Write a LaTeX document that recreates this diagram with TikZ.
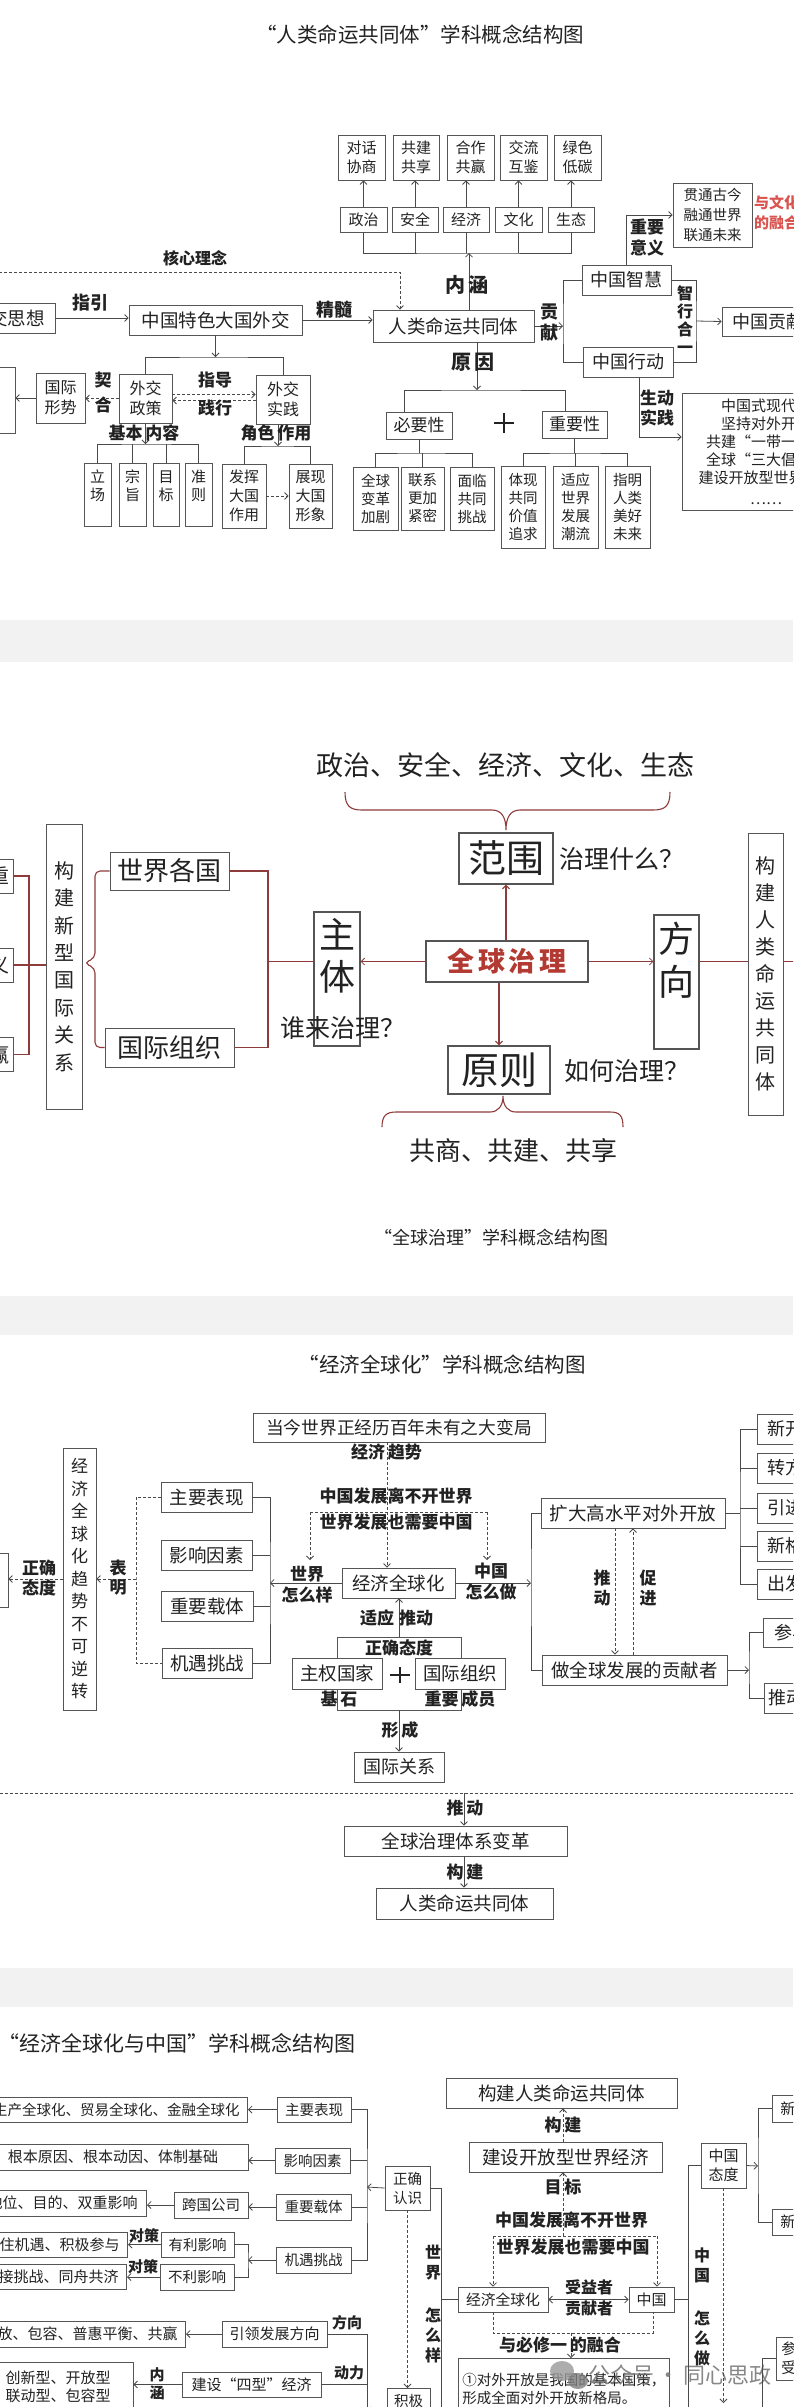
\documentclass[tikz,border=0pt]{standalone}
\usepackage{fontspec}
\setmainfont{Noto Sans CJK SC}
\usetikzlibrary{arrows.meta}
\definecolor{boxc}{HTML}{555555}
\definecolor{linec}{HTML}{4A4A4A}
\definecolor{txt}{HTML}{222222}
\definecolor{redln}{HTML}{8E3B3B}
\definecolor{redtx}{HTML}{B23A32}
\definecolor{pinktx}{HTML}{D9534F}
\definecolor{band}{HTML}{F2F2F2}

\begin{document}
\begin{tikzpicture}[x=1pt,y=-1pt,
  >={Straight Barb[length=3.5pt,width=7pt]},
  fs/.style 2 args={font=\fontsize{#1}{#2}\selectfont},
  bx/.style={draw=boxc,line width=0.8pt,fill=white,inner sep=2pt,align=center,text=txt},
  lbl/.style 2 args={inner sep=0pt,align=center,text=txt,font=\fontsize{#1}{#2}\selectfont\bfseries},
  ln/.style={draw=linec,line width=0.8pt},
  arr/.style={ln,->},
  dsh/.style={ln,dash pattern=on 3pt off 2pt},
  rl/.style={draw=redln,line width=1.1pt}]
  \useasboundingbox (0,0) rectangle (793,2407);
  \clip (0,0) rectangle (793,2407);
  \fill[white] (0,0) rectangle (793,2407);
  \fill[band] (0,620) rectangle (793,662);
  \fill[band] (0,1296) rectangle (793,1335);
  \fill[band] (0,1968) rectangle (793,2007);

  % ---- "人类命运共同体"
  \node[fs={20.5}{24},text=txt] (t1) at (420,35) {“人类命运共同体”学科概念结构图};
  \node[bx,fs={15}{19},minimum width=47,minimum height=45] (dhxs) at (361.5,157.5) {对话\\协商};
  \node[bx,fs={15}{19},minimum width=46,minimum height=45] (gjgx) at (416,157.5) {共建\\共享};
  \node[bx,fs={15}{19},minimum width=47,minimum height=45] (hzgy) at (470.5,157.5) {合作\\共赢};
  \node[bx,fs={15}{19},minimum width=47,minimum height=45] (jlhj) at (523.5,157.5) {交流\\互鉴};
  \node[bx,fs={15}{19},minimum width=47,minimum height=45] (lsdt) at (577.5,157.5) {绿色\\低碳};
  \node[bx,fs={15}{18},minimum width=47,minimum height=25] (zz) at (363.5,219.5) {政治};
  \node[bx,fs={15}{18},minimum width=46,minimum height=25] (aq) at (415,219.5) {安全};
  \node[bx,fs={15}{18},minimum width=46,minimum height=25] (jj) at (466,219.5) {经济};
  \node[bx,fs={15}{18},minimum width=47,minimum height=25] (wh) at (518.5,219.5) {文化};
  \node[bx,fs={15}{18},minimum width=46,minimum height=25] (st) at (571,219.5) {生态};
  \foreach \a/\b in {zz/dhxs,aq/gjgx,jj/hzgy,wh/jlhj,st/lsdt}
    \draw[arr] (\a.north) -- (\a.north |- \b.south);
  \coordinate (nh) at (469,253);
  \draw[ln] (zz.south) |- (nh) -| (st.south);
  \foreach \a in {aq,jj,wh} \draw[ln] (\a.south) -- (\a.south |- nh);

  \node[bx,fs={18.5}{22},minimum width=161,minimum height=32] (rmgt) at (453.5,326) {人类命运共同体};
  \draw[arr] (rmgt.north -| nh) -- (nh);
  \node[lbl={20}{22}] at (467,285) {内\,涵};

  \node[bx,fs={18.5}{22},minimum width=150,minimum height=30] (wxsx) at (-20,318) {习近平外交思想};
  \coordinate (hx) at (400,272);
  \draw[dsh,->] (wxsx.north) |- (hx) -- (hx |- rmgt.north);
  \node[lbl={16}{18}] at (195,258) {核心理念};
  \node[bx,fs={18.5}{22},minimum width=173,minimum height=30] (tsdg) at (215.5,320) {中国特色大国外交};
  \draw[arr] (wxsx.east) -- (wxsx.east -| tsdg.west);
  \node[lbl={18}{20}] at (90,303) {指引};
  \draw[arr] (tsdg.east) -- (tsdg.east -| rmgt.west);
  \node[lbl={18}{20}] at (334,310) {精髓};

  \node[bx,fs={18}{22},minimum width=89,minimum height=30] (zghz) at (626.5,280) {中国智慧};
  \node[bx,fs={18}{22},minimum width=90,minimum height=30] (zgxd) at (628,362) {中国行动};
  \coordinate (gx) at (563,326);
  \draw[arr] (rmgt.east) -- (gx);
  \draw[ln] (zghz.west) -| (gx) |- (zgxd.west);
  \node[lbl={18}{21}] at (549,323) {贡\\献};
  \coordinate (zx) at (696,321);
  \draw[ln] (zghz.east) -| (zx) |- (zgxd.east);
  \node[lbl={16}{18}] at (685,320) {智\\行\\合\\一};
  \node[bx,fs={18}{22},minimum width=92,minimum height=29] (zggx) at (768,321.5) {中国贡献};
  \draw[arr] (zx) -- (zggx.west);
  \node[bx,fs={14.5}{20},minimum width=79,minimum height=64] (gtgj) at (712.5,215) {贯通古今\\融通世界\\联通未来};
  \draw[arr] (zghz.north) |- (gtgj.west);
  \node[lbl={17}{21}] at (647,237.5) {重要\\意义};
  \node[anchor=west,align=left,inner sep=0pt,text=pinktx,font=\fontsize{15}{20}\selectfont\bfseries] (rhx) at (754,213) {与文化\\的融合};
  \node[bx,fs={15}{18},minimum width=168,minimum height=117] (zsxd) at (766,451.5)
    {中国式现代化\\坚持对外开放\\共建“一带一路”\\全球“三大倡议”\\建设开放型世界经济\\[3pt]……};
  \coordinate (sd) at (639,437);
  \draw[arr] (zgxd.south -| sd) -- (sd) -- (sd -| zsxd.west);
  \node[lbl={17}{20}] at (657,408) {生动\\实践};

  \coordinate (yb) at (477,390);
  \draw[arr] (rmgt.south -| yb) -- (yb);
  \node[lbl={20}{22}] at (473,362) {原\,因};
  \node[bx,fs={17}{20},minimum width=66,minimum height=27] (byx) at (419,425.5) {必要性};
  \node[bx,fs={17}{20},minimum width=65,minimum height=27] (zyx) at (574.5,424.5) {重要性};
  \draw[ln] ([xshift=-15]byx.north) |- (yb) -| ([xshift=-9.5]zyx.north);
  \draw[line width=2.2pt,txt] (494,423) -- (514,423) (504,413) -- (504,433);
  \node[bx,fs={14.5}{18},minimum width=45,minimum height=63] (qbgj) at (375.5,498.5) {全球\\变革\\加剧};
  \node[bx,fs={14.5}{18},minimum width=43,minimum height=63] (lxjm) at (422.5,498.5) {联系\\更加\\紧密};
  \node[bx,fs={14.5}{18},minimum width=44,minimum height=63] (mlgt) at (472,498.5) {面临\\共同\\挑战};
  \coordinate (bb) at (419,453);
  \draw[ln] (byx.south) -- (bb);
  \draw[ln] (qbgj.north) |- (bb) -| (mlgt.north);
  \draw[ln] (lxjm.north) -- (lxjm.north |- bb);
  \node[bx,fs={14.5}{18},minimum width=44,minimum height=82] (txgt) at (523,507) {体现\\共同\\价值\\追求};
  \node[bx,fs={14.5}{18},minimum width=45,minimum height=82] (yysj) at (575.5,507) {适应\\世界\\发展\\潮流};
  \node[bx,fs={14.5}{18},minimum width=45,minimum height=82] (zmrl) at (627.5,507) {指明\\人类\\美好\\未来};
  \coordinate (zb) at (575,453);
  \draw[ln] (zyx.south) -- (zyx.south |- zb);
  \draw[ln] (txgt.north) |- (zb) -| (zmrl.north);
  \draw[ln] (yysj.north) -- (yysj.north |- zb);

  \node[bx,fs={16}{20},minimum width=53,minimum height=49] (wxzc) at (145.5,398.5) {外交\\政策};
  \node[bx,fs={16}{20},minimum width=54,minimum height=49] (wxsj) at (283,399.5) {外交\\实践};
  \node[bx,fs={16}{20},minimum width=49,minimum height=50] (gjxs) at (60.5,398) {国际\\形势};
  \coordinate (wb) at (213,357);
  \draw[arr] (tsdg.south) -- (tsdg.south |- wb);
  \draw[ln] (wxzc.north) |- (wb) -| (wxsj.north);
  \draw[dsh,->] ([yshift=4]wxzc.east) -- ([yshift=4]wxzc.east -| wxsj.west);
  \draw[dsh,->] ([yshift=-2]wxzc.east -| wxsj.west) -- ([yshift=-2]wxzc.east);
  \node[lbl={17}{20}] at (215,380) {指导};
  \node[lbl={17}{20}] at (215,408) {践行};
  \draw[dsh,->] (wxzc.west) -- (wxzc.west -| gjxs.east);
  \node[lbl={17}{25}] at (103,392.5) {契\\合};
  \node[bx,minimum width=55,minimum height=66] (lfx) at (-12.5,400) {};
  \draw[arr] (gjxs.west) -- (gjxs.west -| lfx.east);

  \coordinate (jb) at (145,444);
  \draw[arr] (wxzc.south) -- (wxzc.south |- jb);
  \node[lbl={17}{20}] at (144,433) {基本\,内容};
  \node[bx,fs={15}{18},minimum width=27,minimum height=63] (ls) at (97.5,494.5) {立\\场\\\mbox{}};
  \node[bx,fs={15}{18},minimum width=27,minimum height=63] (zz2) at (132.5,494.5) {宗\\旨\\\mbox{}};
  \node[bx,fs={15}{18},minimum width=26,minimum height=63] (mb) at (166,494.5) {目\\标\\\mbox{}};
  \node[bx,fs={15}{18},minimum width=27,minimum height=63] (zc) at (198.5,494.5) {准\\则\\\mbox{}};
  \draw[ln] (ls.north) |- (jb) -| (zc.north);
  \foreach \a in {zz2,mb} \draw[ln] (\a.north) -- (\a.north |- jb);

  \coordinate (jsb) at (278,446);
  \draw[arr] (wxsj.south -| jsb) -- (jsb);
  \node[lbl={17}{20}] at (276,433) {角色\,作用};
  \node[bx,fs={15}{19},minimum width=44,minimum height=64] (fhdg) at (244,496) {发挥\\大国\\作用};
  \node[bx,fs={15}{19},minimum width=43,minimum height=64] (zxdg) at (310.5,496) {展现\\大国\\形象};
  \draw[ln] (fhdg.north) |- (jsb) -| (zxdg.north);
  \draw[dsh,->] (fhdg.east) -- (zxdg.west);

  % ---- "全球治理"
  \node[fs={27}{30},text=txt] (fwt) at (505,765) {政治、安全、经济、文化、生态};
  \draw[rl] (345,792) .. controls (345,806) and (350,810) .. (362,810) -- (492,810)
    .. controls (502,810) and (506,818) .. (506,830) .. controls (506,818) and (510,810) .. (520,810)
    -- (653,810) .. controls (665,810) and (670,806) .. (670,792);
  \node[bx,line width=1.2pt,fs={38}{40},minimum width=94,minimum height=51] (fw) at (506,858.5) {范围};
  \node[anchor=west,inner sep=0pt,fs={25}{28},text=txt] (zlsm) at (559,859) {治理什么？};
  \node[bx,line width=1.2pt,fs={27}{30},text=redtx,minimum width=162,minimum height=41] (qqzl) at (507,961.5)
    {\bfseries 全\hspace{4pt}球\hspace{4pt}治\hspace{4pt}理};
  \node[bx,line width=1.2pt,fs={38}{40},minimum width=102,minimum height=48] (yz) at (499,1070) {原则};
  \node[anchor=west,inner sep=0pt,fs={25}{28},text=txt] (rhzl) at (564,1071) {如何治理？};
  \draw[rl,->] (qqzl.north -| fw) -- (fw.south);
  \draw[rl,->] (qqzl.south -| yz) -- (yz.north);
  \draw[rl] (382,1127) .. controls (382,1116) and (386,1112) .. (396,1112) -- (490,1112)
    .. controls (498,1112) and (503,1106) .. (503,1096) .. controls (503,1106) and (508,1112) .. (516,1112)
    -- (610,1112) .. controls (620,1112) and (623,1116) .. (623,1127);
  \node[fs={26}{30},text=txt] (gsgj) at (513,1151) {共商、共建、共享};

  \node[bx,line width=1.2pt,minimum width=46,minimum height=134] (zt) at (337,979) {};
  \node[inner sep=0pt,align=center,fs={36}{42},text=txt] (ztt) at (337,956) {主\\体};
  \node[inner sep=0pt,fs={25}{28},text=txt] (slzl) at (343,1028) {谁来治理？};
  \node[bx,line width=1.2pt,minimum width=45,minimum height=134] (fx) at (676.5,982) {};
  \node[inner sep=0pt,align=center,fs={36}{43},text=txt] (fxt) at (676.5,960.5) {方\\向};
  \draw[rl,->,line width=0.8pt] (qqzl.west) -- (qqzl.west -| zt.east);
  \draw[rl,->,line width=0.8pt] (qqzl.east) -- (qqzl.east -| fx.west);
  \node[bx,line width=1pt,fs={20}{27},minimum width=35,minimum height=282] (gjrl) at (765.5,974)
    {构\\建\\人\\类\\命\\运\\共\\同\\体};
  \draw[rl] (qqzl.east -| fx.east) -- (qqzl.east -| gjrl.west);
  \draw[rl] (qqzl.east -| gjrl.east) -- ++(20,0);

  \node[bx,line width=1pt,fs={26}{30},minimum width=119,minimum height=38] (sjgg) at (169.5,871) {世界各国};
  \node[bx,line width=1pt,fs={26}{30},minimum width=129,minimum height=39] (gjzz) at (169.5,1047.5) {国际组织};
  \coordinate (zl) at (268,964);
  \draw[rl] (qqzl.west -| zt.west) -- (qqzl.west -| zl);
  \draw[rl] (sjgg.east) -| (zl) |- (gjzz.east);
  \draw[rl,rounded corners=5] (sjgg.west) -| (95,958) -- (84,963) -- (95,968) |- (gjzz.west);
  \node[bx,line width=1pt,fs={20}{27.4},minimum width=36,minimum height=285] (xxgj) at (64,966.5)
    {构\\建\\新\\型\\国\\际\\关\\系};
  \node[bx,line width=1pt,fs={20}{24},anchor=east,inner xsep=4pt,minimum height=34] (xhzz) at (14,876) {相互尊重};
  \node[bx,line width=1pt,fs={20}{24},anchor=east,inner xsep=4pt,minimum height=34] (gpzy) at (14,965) {公平正义};
  \node[bx,line width=1pt,fs={20}{24},anchor=east,inner xsep=4pt,minimum height=34] (hzgy2) at (14,1054.5) {合作共赢};
  \coordinate (xl) at (29,966);
  \draw[rl] (xhzz.east) -| (xl) |- (hzgy2.east);
  \draw[rl] (gpzy.east) -- (gpzy.east -| xxgj.west);
  \node[fs={18}{22},text=txt] (t2) at (491,1238) {“全球治理”学科概念结构图};

  % ---- "经济全球化"
  \node[fs={20.5}{24},text=txt] (t3) at (442,1365) {“经济全球化”学科概念结构图};
  \node[bx,fs={17.7}{21},minimum width=292,minimum height=29] (dbj) at (399,1427.5) {当今世界正经历百年未有之大变局};
  \node[bx,fs={18.5}{22},minimum width=113,minimum height=30] (jjqh) at (398.5,1583) {经济全球化};
  \coordinate (qs) at (387,1452);
  \draw[dsh,->] (dbj.south -| qs) -- (jjqh.north -| qs);
  \node[lbl={17}{20}] at (386.5,1452) {经济\,趋势};
  \node[lbl={17}{20}] (fz1) at (396,1496) {中国发展离不开世界};
  \node[lbl={17}{20}] (fz2) at (396,1522) {世界发展也需要中国};
  \coordinate (d1) at (310,1512);
  \coordinate (d2) at (487,1512);
  \draw[dsh] (d1) -- (d2);
  \draw[dsh,->] (d1) -- ++(0,48);
  \draw[dsh,->] (d2) -- ++(0,48);
  \coordinate (jb3) at (270,1586);
  \draw[arr] (jjqh.west) -- (jjqh.west -| jb3);
  \node[lbl={17}{21}] at (307,1585) {世界\\怎么样};
  \coordinate (zx3) at (531,1583);
  \draw[arr] (jjqh.east) -- (zx3);
  \node[lbl={17}{21}] at (491,1582) {中国\\怎么做};

  \node[bx,fs={18.5}{22},minimum width=91,minimum height=30] (zybx) at (206.5,1497) {主要表现};
  \node[bx,fs={18.5}{22},minimum width=91,minimum height=30] (yxys) at (206.5,1555) {影响因素};
  \node[bx,fs={18.5}{22},minimum width=92,minimum height=30] (zyzt) at (207,1606) {重要载体};
  \node[bx,fs={18.5}{22},minimum width=90,minimum height=30] (jytz) at (207,1663) {机遇挑战};
  \draw[ln] (zybx.east) -| (jb3) |- (jytz.east);
  \foreach \a in {yxys,zyzt} \draw[ln] (\a.east) -- (\a.east -| jb3);
  \coordinate (bm) at (136,1579);
  \draw[dsh] (zybx.west) -| (bm) |- (jytz.west);
  \node[bx,fs={17}{22.5},minimum width=33,minimum height=262] (qsbk) at (79.5,1579)
    {经\\济\\全\\球\\化\\趋\\势\\不\\可\\逆\\转};
  \draw[dsh,->] (bm) -- (qsbk.east);
  \node[lbl={17}{19}] at (118,1577.5) {表\\明};
  \node[bx,minimum width=40,minimum height=54] (zqtd0) at (-12,1580) {};
  \draw[dsh,->] (qsbk.west) -- (qsbk.west -| zqtd0.east);
  \node[lbl={17}{20}] at (39,1578) {正确\\态度};

  \node[bx,fs={18.5}{22},minimum width=184,minimum height=30] (kdgs) at (633,1513) {扩大高水平对外开放};
  \node[bx,fs={18.5}{22},minimum width=185,minimum height=30] (gxz) at (634.5,1670) {做全球发展的贡献者};
  \draw[ln] (kdgs.west) -| (zx3) |- (gxz.west);
  \draw[dsh,->] ([xshift=-18]kdgs.south) -- ([xshift=-18]kdgs.south |- gxz.north);
  \draw[dsh,->] (kdgs.south |- gxz.north) -- (kdgs.south);
  \node[lbl={17}{20}] at (602,1588) {推\\动};
  \node[lbl={17}{20}] at (648,1588) {促\\进};
  \coordinate (rb1) at (740,1513);
  \node[bx,fs={18}{21},anchor=west,inner xsep=10pt,minimum height=30] (xk) at (757,1429) {新开放格局};
  \node[bx,fs={18}{21},anchor=west,inner xsep=10pt,minimum height=30] (zf) at (757,1468) {转方式调结构};
  \node[bx,fs={18}{21},anchor=west,inner xsep=10pt,minimum height=30] (yj) at (757,1508) {引进来};
  \node[bx,fs={18}{21},anchor=west,inner xsep=10pt,minimum height=30] (xg) at (757,1546) {新格局};
  \node[bx,fs={18}{21},anchor=west,inner xsep=10pt,minimum height=30] (cf) at (757,1584) {出发点};
  \draw[ln] (kdgs.east) -- (rb1);
  \draw[ln] (xk.west) -| (rb1) |- (cf.west);
  \foreach \a in {zf,yj,xg} \draw[ln] (\a.west) -- (\a.west -| rb1);
  \coordinate (rb2) at (749,1670);
  \draw[arr] (gxz.east) -- (rb2);
  \node[bx,fs={18}{21},anchor=west,inner xsep=11pt,minimum height=29] (cy) at (763,1632.5) {参与全球治理};
  \node[bx,fs={18}{21},anchor=west,inner xsep=4pt,minimum height=30] (tj) at (764,1698) {推动构建};
  \draw[ln] (cy.west) -| (rb2) |- (tj.west);

  \node[bx,minimum width=124,minimum height=73] (zqtd) at (399,1673.5) {};
  \node[lbl={17}{20}] at (399,1648) {正确态度};
  \draw[arr] (zqtd.north) -- (zqtd.north |- jjqh.south);
  \node[lbl={17}{20}] at (377,1618) {适应};
  \node[lbl={17}{20}] at (416,1618) {推动};
  \node[bx,fs={18.5}{22},minimum width=90,minimum height=31] (zqgj) at (337,1673.5) {主权国家};
  \node[bx,fs={18.5}{22},minimum width=90,minimum height=31] (gjzz3) at (460,1673.5) {国际组织};
  \draw[line width=2.2pt,txt] (390,1675) -- (410,1675) (400,1667) -- (400,1683);
  \node[lbl={17}{20}] at (339,1699) {基\,石};
  \node[lbl={17}{20}] at (460,1699) {重要\,成员};
  \node[bx,fs={18}{22},minimum width=90,minimum height=30] (gjgx3) at (399,1767) {国际关系};
  \draw[arr] (zqtd.south) -- (zqtd.south |- gjgx3.north);
  \node[lbl={17}{20}] at (400,1730) {形\,成};
  \draw[dsh] (0,1793) -- (793,1793);
  \node[bx,fs={18.5}{22},minimum width=223,minimum height=30] (qzbg) at (455.5,1841) {全球治理体系变革};
  \node[bx,fs={18.5}{22},minimum width=177,minimum height=31] (rlmy) at (464.5,1903.5) {人类命运共同体};
  \coordinate (td2) at (464,1793);
  \draw[arr] (td2) -- (td2 |- qzbg.north);
  \node[lbl={17}{20}] at (465,1808) {推\,动};
  \draw[arr] (qzbg.south -| td2) -- (rlmy.north -| td2);
  \node[lbl={17}{20}] at (465,1872) {构\,建};

  % ---- "经济全球化与中国"
  \node[fs={21}{24},text=txt] (t4) at (177,2043) {“经济全球化与中国”学科概念结构图};
  \node[bx,fs={14.5}{18},minimum width=74,minimum height=25] (zybx4) at (314,2109.5) {主要表现};
  \node[bx,fs={14.5}{18},anchor=east,inner xsep=8pt,minimum height=25] (scqq) at (248,2109.5) {生产全球化、贸易全球化、金融全球化};
  \draw[arr] (zybx4.west) -- (scqq.east);
  \node[bx,fs={14.5}{18},minimum width=75,minimum height=25] (yxys4) at (312.5,2160.5) {影响因素};
  \node[bx,fs={15}{18},minimum width=270,minimum height=26] (gbyy) at (113,2157) {根本原因、根本动因、体制基础};
  \draw[arr] (yxys4.west) -- (yxys4.west -| gbyy.east);
  \node[bx,fs={14.5}{18},minimum width=75,minimum height=26] (zyzt4) at (313.5,2207) {重要载体};
  \node[bx,fs={14.5}{18},minimum width=74,minimum height=26] (kggs) at (211,2205) {跨国公司};
  \draw[arr] (zyzt4.west) -- (zyzt4.west -| kggs.east);
  \node[bx,fs={15}{18},anchor=east,inner xsep=9pt,minimum height=26] (dwmd) at (147,2203) {地位、目的、双重影响};
  \draw[arr] (kggs.west) -- (kggs.west -| dwmd.east);
  \node[bx,fs={14.5}{18},minimum width=75,minimum height=26] (jytz4) at (313.5,2260) {机遇挑战};
  \node[bx,fs={14.5}{18},minimum width=73,minimum height=25] (ylyx) at (197.5,2244.5) {有利影响};
  \node[bx,fs={14.5}{18},minimum width=74,minimum height=26] (blyx) at (197,2277) {不利影响};
  \coordinate (jb4) at (248,2260);
  \draw[ln] (ylyx.east) -| (jb4) |- (blyx.east);
  \draw[arr] (jytz4.west) -- (jb4);
  \node[bx,fs={15}{18},anchor=east,inner xsep=8pt,minimum height=25] (zjjy) at (128,2244.5) {抓住机遇、积极参与};
  \node[bx,fs={15}{18},anchor=east,inner xsep=8pt,minimum height=25] (yjtz) at (127,2276.5) {迎接挑战、同舟共济};
  \draw[arr] (ylyx.west) -- (ylyx.west -| zjjy.east);
  \draw[arr] (blyx.west) -- (blyx.west -| yjtz.east);
  \node[lbl={15}{18}] at (144,2236) {对策};
  \node[lbl={15}{18}] at (143,2267) {对策};
  \coordinate (zb4) at (367,2187);
  \draw[ln] (zybx4.east) -| (zb4) |- (jytz4.east);
  \foreach \a in {yxys4,zyzt4} \draw[ln] (\a.east) -- (\a.east -| zb4);
  \node[bx,fs={14.5}{19},minimum width=45,minimum height=44] (zqrs) at (407.5,2188) {正确\\认识};
  \draw[arr] (zqrs.west) -- (zb4);
  \coordinate (sj) at (441,2430);
  \draw[ln] (zqrs.east) -| (sj);
  \node[bx,fs={14.8}{18},minimum width=90,minimum height=25] (jjqh4) at (503,2299.5) {经济全球化};
  \draw[ln] (jjqh4.west) -- (jjqh4.west -| sj);
  \node[lbl={16}{20}] at (433,2263) {世\\界};
  \node[lbl={16}{20}] at (433,2335) {怎\\么\\样};
  \node[bx,fs={14.5}{18},anchor=north,minimum width=43,minimum height=44] (jj4) at (408.5,2388) {积极\\参与};
  \draw[dsh,->] (zqrs.south) -- (zqrs.south |- jj4.north);
  \draw[arr] (jj4.west) -- (jj4.west -| zb4);
  \node[bx,fs={15}{18},minimum width=105,minimum height=26] (ylfx) at (274.5,2334) {引领发展方向};
  \node[bx,fs={15}{18},anchor=east,inner xsep=8pt,minimum height=26] (kfbr) at (186,2334) {开放、包容、普惠平衡、共赢};
  \draw[arr] (ylfx.west) -- (kfbr.east);
  \coordinate (fx4) at (367,2430);
  \draw[ln] (ylfx.east) -| (fx4);
  \node[lbl={15}{18}] at (347,2323) {方向};
  \node[lbl={15}{18}] at (349,2373) {动力};
  \node[bx,fs={15}{18},minimum width=139,minimum height=25] (jssx) at (251.5,2384.5) {建设“四型”经济};
  \draw[ln] (jssx.east) -- (jssx.east -| fx4);
  \node[bx,fs={15}{18},minimum width=150,minimum height=50] (cxx) at (58,2387) {创新型、开放型\\联动型、包容型};
  \draw[arr] (jssx.west) -- (jssx.west -| cxx.east);
  \node[lbl={15}{18}] at (157,2384) {内\\涵};

  \node[bx,fs={18.5}{22},minimum width=231,minimum height=30] (gjrl4) at (561.5,2093) {构建人类命运共同体};
  \node[bx,fs={18.5}{22},minimum width=193,minimum height=30] (jskf) at (565.5,2157) {建设开放型世界经济};
  \coordinate (mb4) at (563,2236);
  \draw[dsh,->] (jskf.north -| mb4) -- (gjrl4.south -| mb4);
  \draw[dsh,->] (mb4) -- (jskf.south -| mb4);
  \node[lbl={17}{20}] at (563,2125) {构\,建};
  \node[lbl={17}{20}] at (563,2187) {目\,标};
  \node[lbl={17}{20}] (fz3) at (571.5,2220) {中国发展离不开世界};
  \node[lbl={17}{20}] (fz4) at (573,2247) {世界发展也需要中国};
  \node[bx,fs={15}{18},minimum width=45,minimum height=25] (zg4) at (651.5,2299.5) {中国};
  \coordinate (dl) at (493,2236);
  \coordinate (dr) at (657,2236);
  \draw[dsh] (dl) -- (dr);
  \draw[dsh,->] (dl) -- (dl |- jjqh4.north);
  \draw[dsh,->] (dr) -- (dr |- zg4.north);
  \draw[ln,<->] (jjqh4.east) -- (zg4.west);
  \node[lbl={16}{18}] at (589,2287) {受益者};
  \node[lbl={16}{18}] at (589,2308) {贡献者};
  \coordinate (bl) at (493,2333);
  \coordinate (br) at (653,2333);
  \draw[dsh] (bl |- jjqh4.south) -- (bl) -- (br) -- (br |- zg4.south);
  \node[bx,fs={14.5}{18.5},anchor=north west,align=left,minimum width=211,minimum height=80] (jbgc) at (458,2358)
    {①对外开放是我国的基本国策，\\形成全面对外开放新格局。\\②中国特色社会主义进入新时代};
  \coordinate (rh) at (571,2333);
  \draw[dsh,->] (rh) -- (rh |- jbgc.north);
  \node[lbl={17}{20}] at (560,2345) {与必修一\,的融合};
  \fill[black!40,opacity=0.8] (562,2371) ellipse (12 and 10);
  \fill[black!50,opacity=0.8] (578,2381) ellipse (10 and 8);
  \node[fs={22}{24},text=black!55,opacity=0.85] (wm) at (680,2375) {公众号\,·\,同心思政};

  \node[bx,fs={15}{19},minimum width=45,minimum height=45] (zgtd) at (723.5,2165.5) {中国\\态度};
  \coordinate (zx4) at (688,2430);
  \draw[ln] (zgtd.west) -| (zx4);
  \draw[ln] (zg4.east) -- (zg4.east -| zx4);
  \node[lbl={16}{20}] at (702,2265) {中\\国};
  \node[lbl={16}{20}] at (702,2338) {怎\\么\\做};
  \coordinate (zd) at (723.5,2403);
  \draw[dsh,->] (zgtd.south) -- (zgtd.south |- zd);
  \coordinate (xb) at (758,2166);
  \draw[arr] (zgtd.east) -- (xb);
  \node[bx,fs={15}{18},anchor=west,inner xsep=8pt,minimum height=27] (xb1) at (772,2108.5) {新发展理念};
  \node[bx,fs={15}{18},anchor=west,inner xsep=8pt,minimum height=26] (xb2) at (772,2222) {新发展格局};
  \draw[ln] (xb1.west) -| (xb) |- (xb2.west);
  \node[bx,fs={15}{19},anchor=west,align=left,inner xsep=5pt,minimum height=43] (cyb) at (776,2358.5) {参与全球经济治理\\受益于经济全球化};
  \coordinate (cb) at (762,2430);
  \draw[ln] (cyb.west) -| (cb);
\end{tikzpicture}
\end{document}
